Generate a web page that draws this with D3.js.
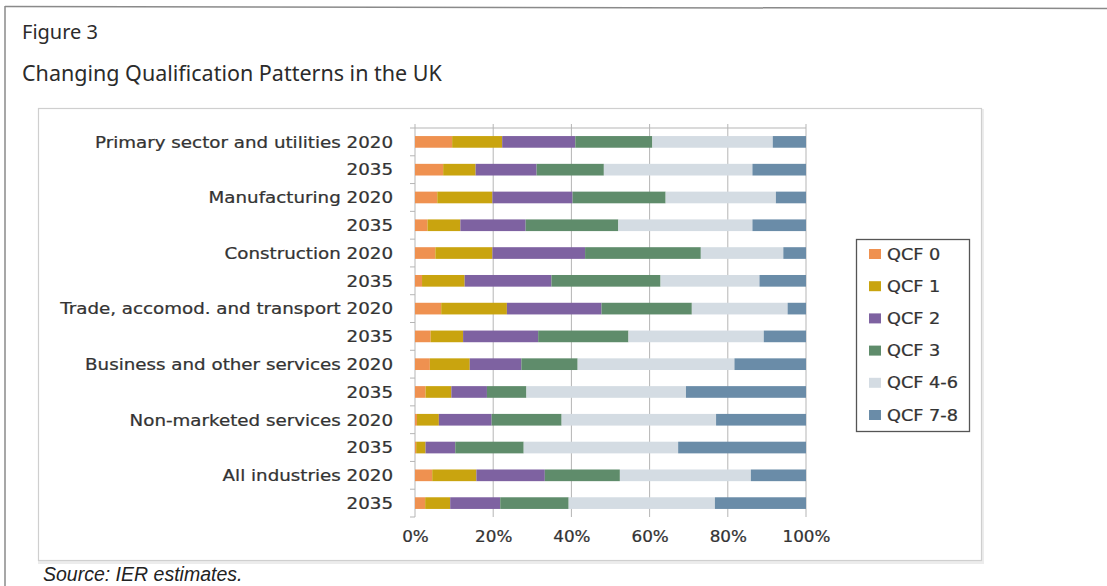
<!DOCTYPE html>
<html>
<head>
<meta charset="utf-8">
<script src="https://cdn.jsdelivr.net/npm/d3@7"></script>
<style>
  html, body { margin: 0; padding: 0; background: #fff; }
  svg { display: block; }
</style>
</head>
<body>
<svg id="chart" width="1107" height="586"></svg>
<script>
// Row labels, top to bottom
const rowLabels = [
  "Primary sector and utilities 2020", "2035",
  "Manufacturing 2020", "2035",
  "Construction 2020", "2035",
  "Trade, accomod. and transport 2020", "2035",
  "Business and other services 2020", "2035",
  "Non-marketed services 2020", "2035",
  "All industries 2020", "2035"
];

// Qualification level series names
const seriesNames = ["QCF 0", "QCF 1", "QCF 2", "QCF 3", "QCF 4-6", "QCF 7-8"];

// Share of employment (%) by qualification level, one value per row
const qcf0  = [9.5, 7.2, 5.7, 3.2, 5.2, 1.8, 6.7, 4.0, 3.8, 2.7, 0.5, 0.3, 4.4, 2.6];
const qcf1  = [12.8, 8.3, 14.1, 8.4, 14.6, 10.9, 16.8, 8.3, 10.2, 6.6, 5.6, 2.4, 11.3, 6.4];
const qcf2  = [18.7, 15.6, 20.5, 16.7, 23.7, 22.2, 24.2, 19.2, 13.2, 9.1, 13.5, 7.6, 17.5, 12.8];
const qcf3  = [19.7, 17.2, 23.8, 23.7, 29.6, 27.9, 23.1, 23.1, 14.4, 10.1, 17.9, 17.5, 19.2, 17.5];
const qcf46 = [30.8, 38.0, 28.2, 34.3, 21.1, 25.3, 24.5, 34.6, 40.1, 40.8, 39.5, 39.5, 33.5, 37.4];
const qcf78 = [8.5, 13.7, 7.7, 13.7, 5.8, 11.9, 4.7, 10.8, 18.3, 30.7, 23.0, 32.7, 14.1, 23.3];

// Axis tick values
const xTicks = [0, 20, 40, 60, 80, 100];

const colors = ["#ef9150", "#c9a40f", "#7e62a1", "#5f8c6b", "#d4dce3", "#6a8ca8"];

const seriesValues = [qcf0, qcf1, qcf2, qcf3, qcf46, qcf78];
const rows = rowLabels.map((label, i) => {
  const r = { idx: i };
  seriesNames.forEach((s, k) => { r[s] = seriesValues[k][i]; });
  return r;
});

const svg = d3.select("#chart");
const labelFont = "'DejaVu Sans', Verdana, sans-serif";

// Stretch a group of labels horizontally (about their anchor) so a sample string spans the given width
function widenTo(selection, sample, targetWidth) {
  const node = selection.filter(function () { return this.textContent === sample; }).node();
  if (!node) return;
  const s = targetWidth / node.getComputedTextLength();
  selection.each(function () {
    const t = d3.select(this);
    const ax = +t.attr("x") || 0;
    t.attr("x", 0).attr("transform", `translate(${ax},0) scale(${s.toFixed(3)},1)`);
  });
}

// Outer page frame (top and left rules)
svg.append("line").attr("x1", 5).attr("x2", 1107).attr("y1", 6.5).attr("y2", 8.5)
  .attr("stroke", "#8a8a8a").attr("stroke-width", 1.5);
svg.append("line").attr("x1", 5).attr("x2", 5).attr("y1", 6).attr("y2", 586)
  .attr("stroke", "#8a8a8a").attr("stroke-width", 1.5);

// Headings
svg.append("text").attr("x", 22).attr("y", 39)
  .attr("font-family", "'Noto Sans', 'Open Sans', sans-serif").attr("font-size", 20)
  .attr("fill", "#2b2b2b").text("Figure 3");
svg.append("text").attr("x", 22).attr("y", 81)
  .attr("font-family", "'Noto Sans', 'Open Sans', sans-serif").attr("font-size", 21.5)
  .attr("fill", "#2b2b2b").text("Changing Qualification Patterns in the UK");

// Chart frame with a soft shadow
svg.append("rect").attr("x", 39.5).attr("y", 110.5).attr("width", 943).attr("height", 452)
  .attr("fill", "none").attr("stroke", "#ececec").attr("stroke-width", 3);
svg.append("rect").attr("x", 38.5).attr("y", 108.5).attr("width", 943).attr("height", 452)
  .attr("fill", "#fff").attr("stroke", "#cfcfcf").attr("stroke-width", 1.2);

// Scales
const x = d3.scaleLinear().domain([0, 100]).range([415, 806]);
const y = d3.scaleBand().domain(rows.map(d => d.idx)).range([128, 517]).paddingInner(0.58).paddingOuter(0.29);

// Vertical gridlines and top tick marks
const grid = svg.append("g");
grid.selectAll("line.grid").data(xTicks).join("line")
  .attr("class", "grid")
  .attr("x1", d => x(d)).attr("x2", d => x(d))
  .attr("y1", 124).attr("y2", 517)
  .attr("stroke", "#b5b5b5").attr("stroke-width", 1);
grid.append("line").attr("x1", x(0)).attr("x2", x(100)).attr("y1", 128).attr("y2", 128)
  .attr("stroke", "#b5b5b5").attr("stroke-width", 1);

// Category axis ticks between rows
const boundaries = d3.range(rows.length + 1).map(i => 128 + i * (517 - 128) / rows.length);
grid.selectAll("line.ytick").data(boundaries).join("line")
  .attr("class", "ytick")
  .attr("x1", x(0) - 5).attr("x2", x(0))
  .attr("y1", d => d).attr("y2", d => d)
  .attr("stroke", "#b5b5b5").attr("stroke-width", 1);

// Stacked bars
const stack = d3.stack().keys(seriesNames);
const layers = stack(rows);
svg.append("g").selectAll("g").data(layers).join("g")
  .attr("fill", (d, i) => colors[i])
  .selectAll("rect").data(d => d).join("rect")
  .attr("x", d => x(d[0]))
  .attr("y", d => y(d.data.idx))
  .attr("width", d => Math.max(0, x(d[1]) - x(d[0])))
  .attr("height", y.bandwidth());

// Row labels
const yAxis = d3.axisLeft(y).tickSize(0).tickPadding(0).tickFormat(i => rowLabels[i]);
const yg = svg.append("g").attr("transform", "translate(393,0)").call(yAxis);
yg.select(".domain").remove();
const yLabels = yg.selectAll("text").attr("font-family", labelFont).attr("font-size", 16)
  .attr("fill", "#333").attr("stroke", "#333").attr("stroke-width", 0.25).attr("dy", "0.36em");
widenTo(yLabels, rowLabels[0], 298);

// Percentage axis labels
const xAxis = d3.axisBottom(x).tickValues(xTicks).tickSize(0).tickPadding(0).tickFormat(d => d + "%");
const xg = svg.append("g").attr("transform", "translate(0,533)").call(xAxis);
xg.select(".domain").remove();
const xLabels = xg.selectAll("text").attr("font-family", labelFont).attr("font-size", 15.5)
  .attr("fill", "#333").attr("stroke", "#333").attr("stroke-width", 0.25).attr("dy", "0.6em");
widenTo(xLabels, "100%", 48);

// Legend
const legend = svg.append("g");
legend.append("rect").attr("x", 856.5).attr("y", 239.5).attr("width", 113).attr("height", 192)
  .attr("fill", "#fff").attr("stroke", "#555").attr("stroke-width", 1.3);
const lg = legend.selectAll("g.item").data(seriesNames).join("g")
  .attr("class", "item")
  .attr("transform", (d, i) => `translate(869,${254 + i * 32.2})`);
lg.append("rect").attr("x", 0).attr("y", -5).attr("width", 12).attr("height", 10)
  .attr("fill", (d, i) => colors[i]);
const legendText = lg.append("text").attr("x", 18).attr("y", 0).attr("dy", "0.36em")
  .attr("font-family", labelFont).attr("font-size", 15.5)
  .attr("fill", "#333").attr("stroke", "#333").attr("stroke-width", 0.25).text(d => d);
widenTo(legendText, "QCF 4-6", 71);

// Source note
svg.append("text").attr("x", 43).attr("y", 581)
  .attr("font-family", "'Liberation Sans', Arial, sans-serif").attr("font-size", 19.5)
  .attr("font-style", "italic").attr("fill", "#222").text("Source: IER estimates.");
</script>
</body>
</html>
